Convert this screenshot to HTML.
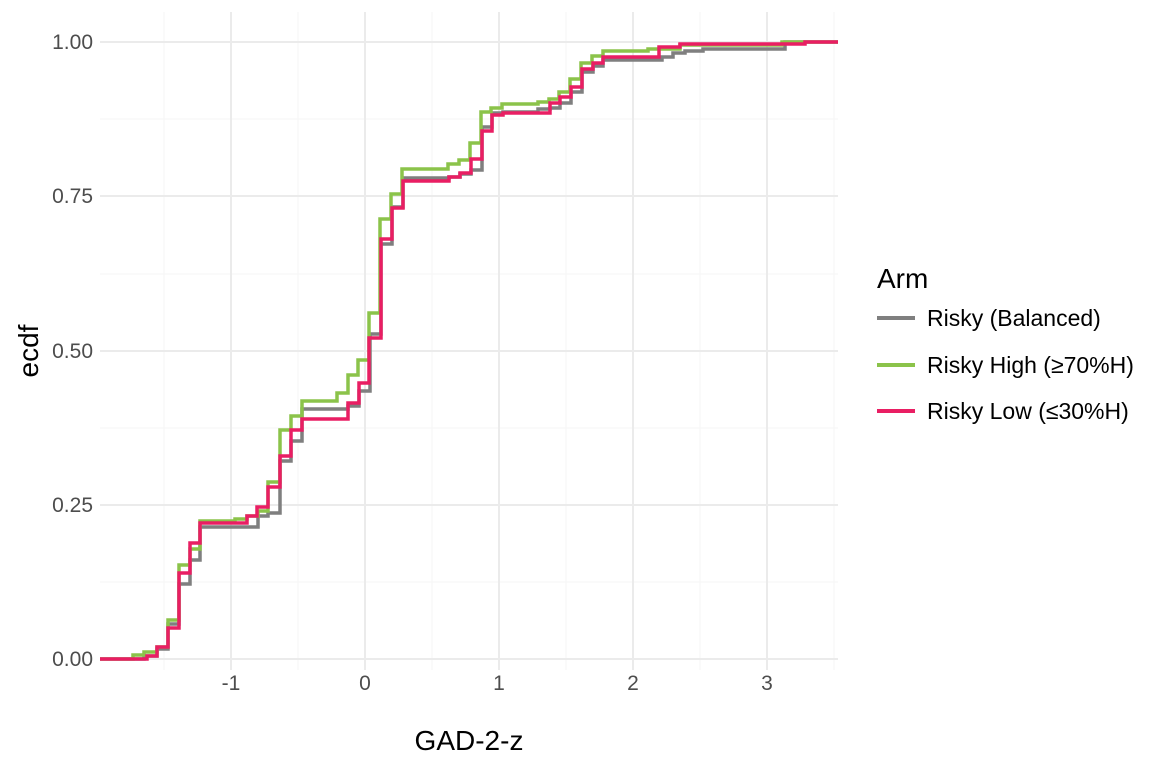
<!DOCTYPE html>
<html><head><meta charset="utf-8"><style>
body{margin:0;background:#fff;}
svg{display:block;font-family:"Liberation Sans",sans-serif;}
</style></head><body>
<svg width="1152" height="768" viewBox="0 0 1152 768">
<g stroke="#f5f5f5" stroke-width="1">
<line x1="164" y1="12" x2="164" y2="670"/><line x1="298" y1="12" x2="298" y2="670"/><line x1="432" y1="12" x2="432" y2="670"/><line x1="566" y1="12" x2="566" y2="670"/><line x1="700" y1="12" x2="700" y2="670"/><line x1="834" y1="12" x2="834" y2="670"/>
<line x1="100" y1="582" x2="838" y2="582"/><line x1="100" y1="428" x2="838" y2="428"/><line x1="100" y1="274" x2="838" y2="274"/><line x1="100" y1="119" x2="838" y2="119"/>
</g>
<g stroke="#ebebeb" stroke-width="2">
<line x1="231" y1="12" x2="231" y2="670"/><line x1="365" y1="12" x2="365" y2="670"/><line x1="499" y1="12" x2="499" y2="670"/><line x1="633" y1="12" x2="633" y2="670"/><line x1="767" y1="12" x2="767" y2="670"/>
<line x1="100" y1="659" x2="838" y2="659"/><line x1="100" y1="505" x2="838" y2="505"/><line x1="100" y1="351" x2="838" y2="351"/><line x1="100" y1="196" x2="838" y2="196"/><line x1="100" y1="42" x2="838" y2="42"/>
</g>
<g fill="none" stroke-width="3.5" stroke-linejoin="miter">
<path stroke="#7f7f7f" d="M100,659 H144 V656 H157 V649 H168 V624 H179 V584 H190 V560 H200 V527 H258 V516 H268 V513 H280 V461 H291 V441 H302 V409 H348 V406 H359 V391 H370 V334 H381 V244 H392 V207 H403 V178 H449 V177 H460 V174 H471 V170 H482 V127 H492 V113 H503 V112 H538 V109 H550 V108 H560 V103 H571 V92 H582 V72 H593 V66 H603 V60 H662 V57 H673 V53 H685 V51 H703 V49 H785 V42 H838"/>
<path stroke="#8bc34a" d="M100,659 H133 V655 H144 V652 H157 V647 H168 V620 H179 V565 H190 V549 H200 V521 H235 V519 H247 V516 H258 V511 H268 V482 H280 V430 H291 V416 H302 V401 H337 V393 H348 V375 H358 V360 H369 V313 H380 V219 H391 V194 H402 V169 H448 V164 H459 V160 H470 V143 H481 V112 H491 V108 H502 V104 H538 V102 H549 V99 H559 V92 H570 V79 H581 V63 H592 V56 H603 V51 H648 V49 H680 V45 H782 V42 H838"/>
<path stroke="#e91e63" d="M100,659 H147 V656 H157 V647 H168 V628 H179 V573 H190 V543 H200 V523 H247 V516 H257 V507 H268 V487 H280 V456 H291 V430 H302 V419 H348 V403 H359 V383 H369 V338 H381 V239 H392 V208 H403 V181 H449 V177 H460 V173 H471 V159 H482 V131 H492 V115 H503 V113 H550 V103 H560 V97 H571 V87 H582 V69 H593 V63 H603 V57 H659 V47 H680 V44 H805 V42 H838"/>
</g>
<g fill="#4d4d4d" font-size="21" text-anchor="end">
<text x="93" y="666">0.00</text><text x="93" y="512">0.25</text><text x="93" y="358">0.50</text><text x="93" y="203">0.75</text><text x="93" y="49">1.00</text>
</g>
<g fill="#4d4d4d" font-size="21" text-anchor="middle">
<text x="231" y="690">-1</text><text x="365" y="690">0</text><text x="499" y="690">1</text><text x="633" y="690">2</text><text x="767" y="690">3</text>
</g>
<text x="469" y="750" font-size="28" text-anchor="middle" fill="#000">GAD-2-z</text>
<text transform="translate(38,351) rotate(-90)" font-size="28" text-anchor="middle" fill="#000">ecdf</text>
<text x="877" y="288" font-size="28" fill="#000">Arm</text>
<g stroke-width="4">
<line x1="877" y1="318" x2="915" y2="318" stroke="#7f7f7f"/>
<line x1="877" y1="365" x2="915" y2="365" stroke="#8bc34a"/>
<line x1="877" y1="411" x2="915" y2="411" stroke="#e91e63"/>
</g>
<g font-size="23" fill="#000">
<text x="927" y="326">Risky (Balanced)</text>
<text x="927" y="373">Risky High (≥70%H)</text>
<text x="927" y="419">Risky Low (≤30%H)</text>
</g>
</svg>
</body></html>
